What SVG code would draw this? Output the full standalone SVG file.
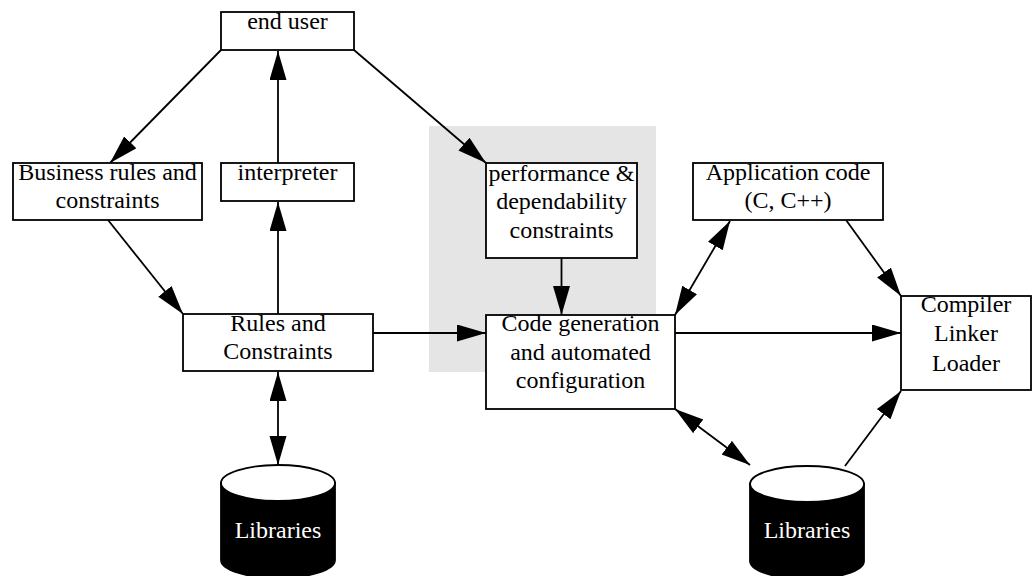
<svg xmlns="http://www.w3.org/2000/svg" width="1033" height="576" viewBox="0 0 1033 576">
<style>
.box{fill:#fff;stroke:#000;stroke-width:1.8}
.t{font-family:"Liberation Serif","Times New Roman",serif;font-size:24px;fill:#000;text-anchor:middle}
.w{fill:#fff}
.c{stroke:#000;stroke-width:1.8;fill:none}
.a{marker-end:url(#ah)}
.b{marker-start:url(#ah);marker-end:url(#ah)}
</style>
<defs>
<marker id="ah" markerUnits="userSpaceOnUse" markerWidth="30" markerHeight="18" viewBox="0 0 30 18" refX="29" refY="8.5" orient="auto-start-reverse">
<path d="M0,0 L29,8.5 L0,17 Z" fill="#000"/>
</marker>
</defs>
<rect x="429" y="126" width="227" height="246" fill="#e5e5e5"/>
<g id="connectors">
<line class="c a" x1="221" y1="50" x2="110" y2="163"/>
<line class="c a" x1="278" y1="163" x2="278" y2="51"/>
<line class="c a" x1="354" y1="50" x2="486" y2="163"/>
<line class="c a" x1="108" y1="220" x2="183" y2="314"/>
<line class="c a" x1="278" y1="314" x2="278" y2="202"/>
<line class="c a" x1="373" y1="333" x2="486" y2="333"/>
<line class="c b" x1="278" y1="372" x2="278" y2="465"/>
<line class="c a" x1="561.5" y1="258" x2="561.5" y2="315"/>
<line class="c b" x1="730" y1="221" x2="675" y2="315"/>
<line class="c a" x1="846" y1="220" x2="901" y2="296"/>
<line class="c a" x1="675" y1="333" x2="901" y2="333"/>
<line class="c b" x1="675" y1="409" x2="750" y2="465"/>
<line class="c a" x1="845" y1="466" x2="901" y2="391"/>
</g>
<g id="end-user">
<rect class="box" x="221" y="12" width="133" height="38"/>
<text class="t" x="287.5" y="29">end user</text>
</g>
<g id="business-rules">
<rect class="box" x="13" y="163" width="189" height="57"/>
<text class="t" x="107.5" y="180">Business rules and</text>
<text class="t" x="107.5" y="208">constraints</text>
</g>
<g id="interpreter">
<rect class="box" x="221" y="163" width="133" height="38"/>
<text class="t" x="287.5" y="180">interpreter</text>
</g>
<g id="performance">
<rect class="box" x="486" y="163" width="151" height="95"/>
<text class="t" x="561.5" y="180.5">performance &amp;</text>
<text class="t" x="561.5" y="209">dependability</text>
<text class="t" x="561.5" y="237.5">constraints</text>
</g>
<g id="application-code">
<rect class="box" x="693" y="163" width="190" height="57"/>
<text class="t" x="788" y="180">Application code</text>
<text class="t" x="788" y="208">(C, C++)</text>
</g>
<g id="rules-constraints">
<rect class="box" x="183" y="314" width="190" height="57"/>
<text class="t" x="278" y="331">Rules and</text>
<text class="t" x="278" y="359">Constraints</text>
</g>
<g id="code-generation">
<rect class="box" x="486" y="315" width="189" height="94"/>
<text class="t" x="580.5" y="331">Code generation</text>
<text class="t" x="580.5" y="359.5">and automated</text>
<text class="t" x="580.5" y="388">configuration</text>
</g>
<g id="compiler">
<rect class="box" x="901" y="296" width="130" height="94"/>
<text class="t" x="966" y="312">Compiler</text>
<text class="t" x="966" y="341">Linker</text>
<text class="t" x="966" y="370.5">Loader</text>
</g>
<g id="libraries-left">
<path d="M221,483 L221,560 A57,18 0 0 0 335,560 L335,483 Z" fill="#000" stroke="#000" stroke-width="1.8"/>
<ellipse cx="278" cy="483" rx="57" ry="18" fill="#fff" stroke="#000" stroke-width="1.8"/>
<text class="t w" x="278" y="538">Libraries</text>
</g>
<g id="libraries-right">
<path d="M750,484 L750,561 A57,18 0 0 0 864,561 L864,484 Z" fill="#000" stroke="#000" stroke-width="1.8"/>
<ellipse cx="807" cy="484" rx="57" ry="18" fill="#fff" stroke="#000" stroke-width="1.8"/>
<text class="t w" x="807" y="538">Libraries</text>
</g>
</svg>
